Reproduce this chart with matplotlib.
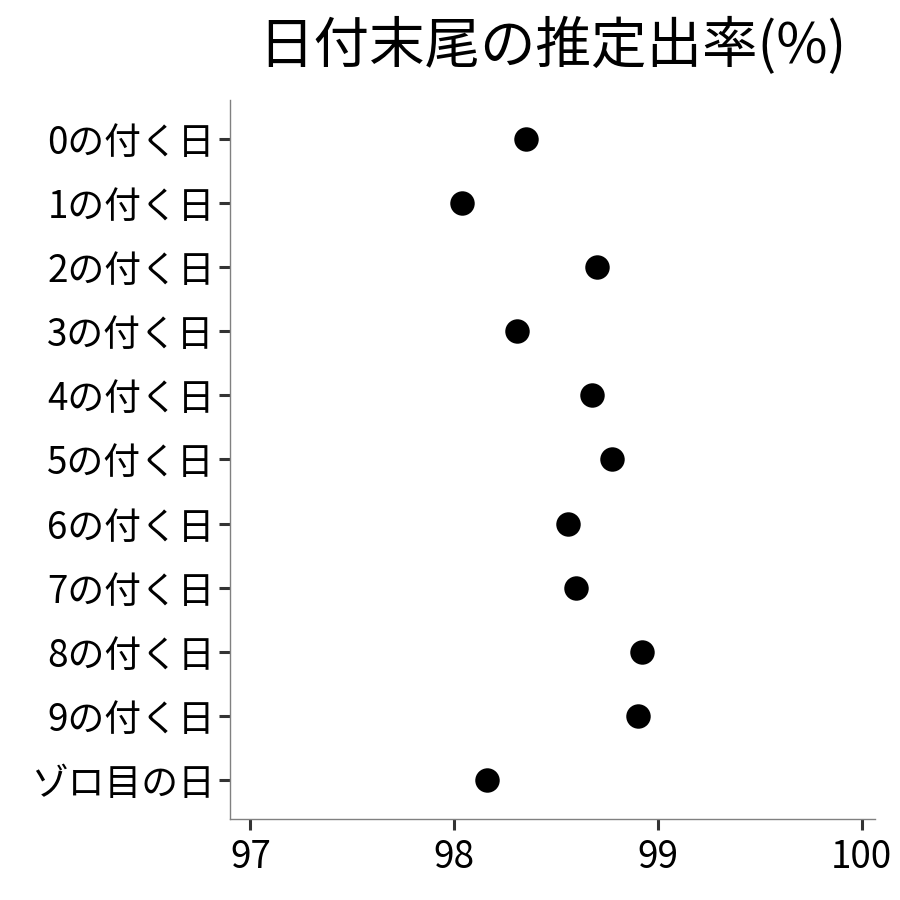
import matplotlib
matplotlib.use('Agg')
import matplotlib.pyplot as plt

plt.rcParams['font.family'] = ['Noto Sans CJK JP', 'DejaVu Sans']

# 日付末尾ごとの推定出率(%)
labels = ['0の付く日', '1の付く日', '2の付く日', '3の付く日', '4の付く日',
          '5の付く日', '6の付く日', '7の付く日', '8の付く日', '9の付く日', 'ゾロ目の日']
rates = [98.35, 98.04, 98.70, 98.31, 98.675, 98.775, 98.56, 98.60, 98.92, 98.90, 98.16]
xticks = [97, 98, 99, 100]

fig = plt.figure(figsize=(9, 9), dpi=100)
ax = fig.add_axes([0.2556, 0.0900, 0.9722 - 0.2556, 0.8889 - 0.0900])

ypos = list(range(len(labels)))
ax.scatter(rates, ypos, s=310, color='black', zorder=3, linewidths=0)

ax.set_xlim(96.9, 100.065)
ax.set_ylim(len(labels) - 0.4, -0.6)
ax.set_xticks(xticks)
ax.set_xticklabels([str(v) for v in xticks])
ax.set_yticks(ypos)
ax.set_yticklabels(labels)

for side in ['top', 'right']:
    ax.spines[side].set_visible(False)
for side in ['left', 'bottom']:
    ax.spines[side].set_color('#808080')
    ax.spines[side].set_linewidth(1.0)

ax.tick_params(axis='both', length=8, width=2.2, color='#333333',
               labelsize=26.5, labelcolor='black')
ax.tick_params(axis='y', pad=3)
ax.tick_params(axis='x', pad=6)

fig.suptitle('日付末尾の推定出率(%)', x=0.614, y=0.98, fontsize=40, va='top')

fig.savefig('out.png', dpi=100)
